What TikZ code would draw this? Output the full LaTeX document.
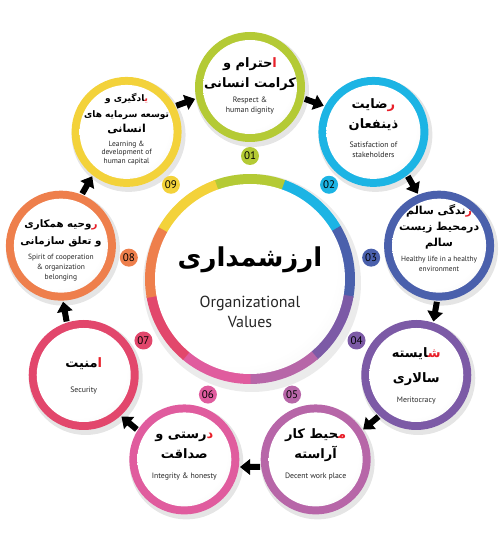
\documentclass[tikz,border=0pt]{standalone}
\usepackage{fontspec}
\setmainfont{PT Sans}
\newfontfamily\fa[Script=Arabic]{DejaVu Sans}
\TeXXeTstate=1
\usetikzlibrary{calc}
\definecolor{c1}{HTML}{B4CA35}
\definecolor{c2}{HTML}{1CB4E4}
\definecolor{c3}{HTML}{4A60AC}
\definecolor{c4}{HTML}{7C5AA6}
\definecolor{c5}{HTML}{B766A8}
\definecolor{c6}{HTML}{E05C9E}
\definecolor{c7}{HTML}{E2476C}
\definecolor{c8}{HTML}{EE7F4C}
\definecolor{c9}{HTML}{F3D23A}
\definecolor{redl}{HTML}{E8202A}
\pgfdeclareradialshading{disk}{\pgfpoint{-7bp}{7bp}}{color(0bp)=(white); color(26bp)=(white); color(44bp)=(black!9); color(50bp)=(black!18)}
\newcommand\rd[1]{{\color{redl}#1}}
\tikzset{
  fa/.style={font=\fa\bfseries\fontsize{13}{20}\selectfont, align=center, inner sep=0},
  fasm/.style={font=\fa\bfseries\fontsize{11}{16}\selectfont, align=center, inner sep=0},
  en/.style={font=\fontsize{7.8}{10}\selectfont, align=center, inner sep=0, text=black!85},
  badge/.style={circle, inner sep=0, minimum size=18, font=\fontsize{11}{11}\selectfont}
}
\begin{document}
\begin{tikzpicture}[x=1pt,y=1pt]
\useasboundingbox (0,0) rectangle (500,544);
\coordinate (C) at (250,265);
% central circle
\fill[black,opacity=.08] ($(C)+(2,-4)$) circle (109);
\foreach \k/\a in {1/90,2/50,3/10,4/-30,5/-70,6/-110,7/-150,8/170,9/130}{
  \pgfmathsetmacro\sa{\a-20.4}
  \pgfmathsetmacro\ea{\a+20.4}
  \fill[c\k] ($(C)+(\sa:105)$) arc[start angle=\sa, end angle=\ea, radius=105]
     -- ($(C)+(\ea:94)$) arc[start angle=\ea, end angle=\sa, radius=94] -- cycle;
}
\shade[shading=disk] (C) circle (95);
\node[font=\fa\bfseries\fontsize{26}{26}\selectfont, inner sep=0] (pc) at ($(C)+(0,19)$) {ارزشمداری};
\node[font=\fontsize{16}{20}\selectfont, align=center, inner sep=0, text=black!85] (ec) at ($(C)+(0,-33)$) {Organizational\\Values};
% small circles, badges, arrows
\foreach \k/\a in {1/90,2/50,3/10,4/-30,5/-70,6/-110,7/-150,8/170,9/130}{
  \coordinate (c\k) at ($(C)+(\a:192)$);
  \fill[black,opacity=.10] ($(c\k)+(2,-3)$) circle (57);
  \fill[c\k] (c\k) circle (55);
  \shade[shading=disk] (c\k) circle (47);
  \node[badge, fill=c\k] (b\k) at ($(C)+(\a:123)$) {0\k};
  \pgfmathsetmacro\aa{\a-20}
  \pgfmathsetmacro\dd{\a-110}
  \coordinate (a\k) at ($(C)+(\aa:188)$);
  \fill[black, shift={(a\k)}, rotate=\dd] (-10,-3) -- (0,-3) -- (0,-8) -- (10,0) -- (0,8) -- (0,3) -- (-10,3) -- cycle;
}
% texts (red first letter placed to the right of the R segment, outside it)
\node[fa] (p1) at ($(c1)+(0,13)$) {\beginR حترام و\endR\rd{ا}\\\beginR کرامت انسانی\endR};
\node[en] (e1) at ($(c1)+(0,-19)$) {Respect \&\\human dignity};
\node[fa] (p2) at ($(c2)+(0,17)$) {ضایت\rd{ر}\\ذینفعان};
\node[en] (e2) at ($(c2)+(0,-18)$) {Satisfaction of\\stakeholders};
\node[fasm] (p3) at ($(c3)+(0,19)$) {\beginR ندگی سالم\endR\rd{ز}\\\beginR درمحیط زیست\endR\\سالم};
\node[en, font=\fontsize{7.4}{10}\selectfont] (e3) at ($(c3)+(0,-18)$) {Healthy life in a healthy\\environment};
\node[fa, font=\fa\bfseries\fontsize{13}{25}\selectfont] (p4) at ($(c4)+(0,8)$) {^^^^200dایسته\rd{ش^^^^200d}\\سالاری};
\node[en] (e4) at ($(c4)+(0,-26)$) {Meritocracy};
\node[fa] (p5) at ($(c5)+(0,14)$) {\beginR ^^^^200dحیط کار\endR\rd{م^^^^200d}\\آراسته};
\node[en] (e5) at ($(c5)+(0,-17)$) {Decent work place};
\node[fa] (p6) at ($(c6)+(0,14)$) {\beginR رستی و\endR\rd{د}\\صداقت};
\node[en] (e6) at ($(c6)+(0,-17)$) {Integrity \& honesty};
\node[fa] (p7) at ($(c7)+(0,11)$) {منیت\rd{ا}};
\node[en] (e7) at ($(c7)+(0,-16)$) {Security};
\node[fasm, font=\fa\bfseries\fontsize{10.3}{17}\selectfont] (p8) at ($(c8)+(0,12)$) {\beginR وحیه همکاری\endR\rd{ر}\\\beginR و تعلق سازمانی\endR};
\node[en, font=\fontsize{7.5}{10}\selectfont] (e8) at ($(c8)+(0,-22)$) {Spirit of cooperation\\\& organization\\belonging};
\node[fasm, font=\fa\bfseries\fontsize{9}{15.5}\selectfont] (p9) at ($(c9)+(0,18)$) {\beginR ^^^^200dادگیری و\endR\rd{ی^^^^200d}\\\beginR توسعه سرمایه های\endR\\{\fontsize{11}{15.5}\selectfont انسانی}};
\node[en, font=\fontsize{7.5}{8.6}\selectfont] (e9) at ($(c9)+(0,-21)$) {Learning \&\\development of\\human capital};
\end{tikzpicture}
\end{document}
